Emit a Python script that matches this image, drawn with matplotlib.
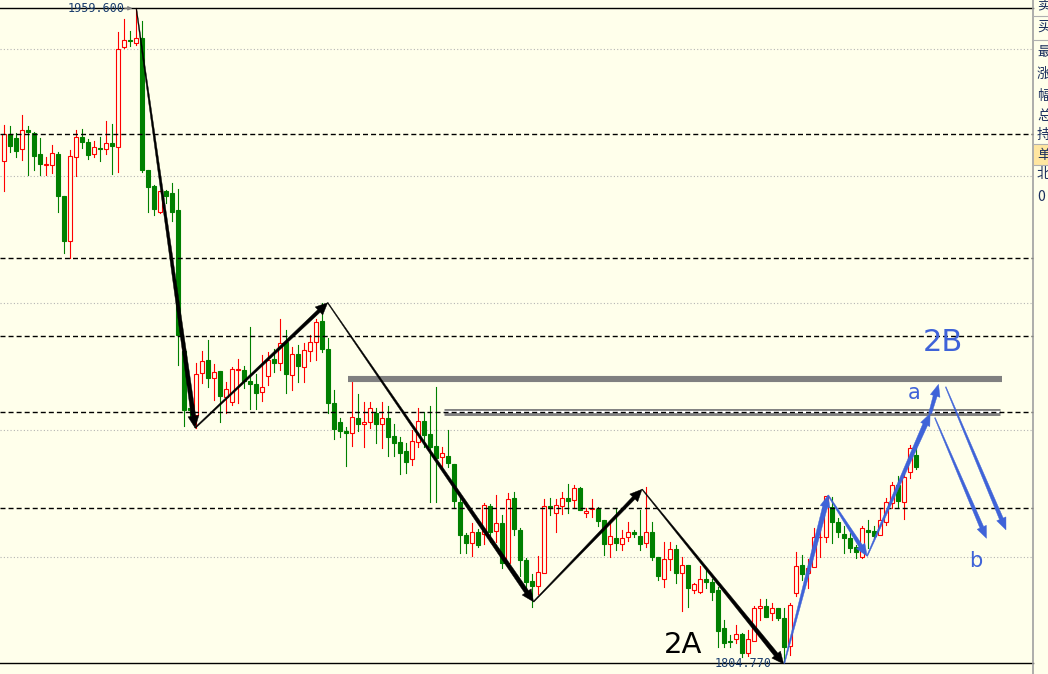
import numpy as np
import matplotlib
matplotlib.use('Agg')
import matplotlib.pyplot as plt
from matplotlib.patches import Rectangle, Polygon
from matplotlib.lines import Line2D

# candle data (open, high, low, close)
opens = [1923.6, 1930.0, 1929.0, 1926.3, 1930.8, 1930.2, 1925.2, 1922.6, 1922.6, 1925.2,
         1915.2, 1904.7, 1924.5, 1929.1, 1927.9, 1925.1, 1926.6, 1926.3, 1927.7, 1926.7,
         1950.4, 1952.1, 1951.5, 1952.5, 1921.4, 1917.6, 1911.5, 1916.4, 1916.0, 1911.9,
         1878.6, 1865.1, 1863.5, 1873.3, 1876.5, 1872.1, 1873.9, 1867.8, 1866.6, 1874.1,
         1874.1, 1871.6, 1870.7, 1869.0, 1872.7, 1876.7, 1875.8, 1880.8, 1872.9, 1877.9,
         1874.9, 1878.7, 1880.6, 1885.7, 1879.1, 1866.2, 1861.7, 1859.7, 1859.1, 1862.7,
         1861.3, 1861.9, 1864.0, 1861.3, 1862.7, 1858.5, 1857.0, 1854.9, 1853.0, 1857.1,
         1862.0, 1859.0, 1856.1, 1853.5, 1853.8, 1851.9, 1843.0, 1835.1, 1833.3, 1835.8,
         1835.3, 1841.9, 1836.1, 1837.9, 1828.5, 1843.8, 1836.3, 1829.2, 1824.2, 1823.1,
         1826.2, 1841.9, 1840.2, 1841.9, 1843.8, 1843.4, 1846.1, 1840.4, 1841.2, 1841.2,
         1838.6, 1832.9, 1834.4, 1833.0, 1834.7, 1835.7, 1834.8, 1833.1, 1835.7, 1829.8,
         1824.6, 1829.3, 1831.8, 1826.2, 1828.0, 1822.1, 1821.7, 1824.7, 1823.9, 1822.1,
         1813.0, 1810.0, 1810.4, 1811.7, 1807.3, 1810.1, 1817.8, 1818.4, 1816.6, 1817.9,
         1815.5, 1808.8, 1821.3, 1828.0, 1826.2, 1827.6, 1834.5, 1834.5, 1841.8, 1838.2,
         1835.3, 1834.4, 1832.2, 1829.8, 1836.3, 1836.0, 1835.1, 1838.2, 1842.7, 1846.9,
         1843.0, 1849.9, 1854.0]
highs = [1932.0, 1931.8, 1930.2, 1934.4, 1931.8, 1930.4, 1929.0, 1924.5, 1927.3, 1925.7,
         1915.2, 1926.1, 1930.8, 1931.1, 1928.7, 1928.3, 1929.2, 1933.0, 1932.2, 1954.1,
         1957.1, 1954.2, 1959.6, 1956.6, 1921.4, 1917.8, 1916.4, 1916.6, 1918.2, 1916.9,
         1878.6, 1866.3, 1875.8, 1878.6, 1881.2, 1875.5, 1873.9, 1871.3, 1874.9, 1876.7,
         1875.1, 1884.3, 1873.1, 1877.6, 1878.4, 1879.1, 1886.2, 1883.5, 1879.6, 1880.0,
         1880.4, 1882.4, 1886.1, 1889.9, 1881.6, 1869.4, 1862.7, 1860.7, 1871.3, 1868.4,
         1866.5, 1866.6, 1865.2, 1866.5, 1865.6, 1861.3, 1858.3, 1856.8, 1859.9, 1865.0,
         1864.2, 1865.6, 1870.1, 1856.0, 1859.9, 1851.9, 1844.3, 1835.6, 1837.9, 1836.4,
         1842.7, 1842.4, 1844.5, 1839.8, 1844.9, 1845.2, 1836.7, 1829.6, 1825.9, 1830.1,
         1843.5, 1843.8, 1843.5, 1845.3, 1847.1, 1846.9, 1846.5, 1841.4, 1843.5, 1841.8,
         1838.6, 1838.6, 1841.5, 1836.3, 1838.2, 1836.3, 1841.0, 1846.5, 1838.2, 1829.8,
         1833.5, 1833.5, 1832.7, 1830.0, 1828.0, 1823.7, 1827.8, 1827.0, 1824.7, 1822.7,
         1815.0, 1811.5, 1813.8, 1811.9, 1812.6, 1818.3, 1819.9, 1820.0, 1819.1, 1817.9,
         1817.8, 1818.9, 1831.1, 1830.4, 1829.3, 1836.7, 1837.1, 1844.3, 1844.1, 1839.0,
         1837.1, 1835.6, 1832.7, 1837.1, 1838.6, 1837.1, 1841.4, 1843.8, 1847.7, 1849.0,
         1850.5, 1856.4, 1855.6]
lows = [1916.5, 1925.7, 1924.5, 1923.7, 1920.2, 1921.4, 1920.2, 1920.2, 1920.6, 1911.5,
        1901.8, 1900.5, 1920.0, 1926.6, 1924.0, 1924.4, 1923.6, 1925.2, 1920.4, 1921.0,
        1950.1, 1950.8, 1950.9, 1921.0, 1911.4, 1910.7, 1911.1, 1913.5, 1909.2, 1875.3,
        1860.9, 1862.7, 1860.4, 1871.0, 1870.0, 1867.0, 1861.9, 1863.9, 1865.8, 1866.2,
        1869.8, 1864.9, 1864.9, 1866.8, 1870.5, 1873.7, 1874.1, 1868.7, 1869.4, 1871.3,
        1871.3, 1876.3, 1876.5, 1878.4, 1863.9, 1857.8, 1858.3, 1851.5, 1856.2, 1859.7,
        1856.0, 1860.3, 1856.9, 1855.7, 1853.8, 1853.8, 1849.4, 1849.8, 1851.6, 1856.0,
        1856.0, 1843.0, 1843.0, 1851.2, 1851.2, 1841.4, 1830.9, 1830.9, 1830.1, 1832.3,
        1833.0, 1833.5, 1833.5, 1827.2, 1827.6, 1835.1, 1825.4, 1822.5, 1818.1, 1821.1,
        1826.2, 1839.8, 1835.9, 1840.0, 1840.2, 1841.4, 1841.0, 1839.4, 1839.4, 1837.2,
        1830.4, 1829.8, 1831.5, 1831.5, 1833.7, 1834.7, 1831.5, 1832.3, 1829.2, 1824.4,
        1822.9, 1826.8, 1823.8, 1817.2, 1818.1, 1821.4, 1821.3, 1822.5, 1819.7, 1808.7,
        1808.5, 1808.7, 1809.5, 1806.3, 1806.5, 1810.1, 1815.0, 1815.6, 1815.0, 1815.0,
        1804.77, 1806.7, 1820.7, 1824.4, 1822.5, 1827.6, 1829.8, 1833.5, 1833.1, 1834.7,
        1830.9, 1831.1, 1829.6, 1829.6, 1831.9, 1834.3, 1835.1, 1837.5, 1841.4, 1841.4,
        1838.8, 1848.5, 1850.7]
closes = [1930.0, 1927.1, 1925.9, 1930.8, 1930.4, 1924.8, 1922.7, 1922.8, 1925.3, 1915.3,
          1904.7, 1924.7, 1929.1, 1928.1, 1924.9, 1926.7, 1926.3, 1927.7, 1927.1, 1949.9,
          1952.0, 1951.9, 1952.5, 1921.4, 1917.4, 1912.2, 1916.4, 1915.2, 1911.5, 1882.4,
          1864.6, 1864.6, 1873.1, 1876.3, 1872.1, 1873.6, 1868.0, 1869.5, 1874.3, 1874.3,
          1871.6, 1870.7, 1868.7, 1870.0, 1876.5, 1875.8, 1880.4, 1873.1, 1877.9, 1875.0,
          1878.8, 1880.6, 1885.4, 1879.1, 1866.2, 1860.1, 1859.7, 1859.1, 1862.9, 1861.3,
          1861.7, 1865.0, 1861.3, 1862.7, 1858.3, 1856.8, 1854.5, 1852.4, 1857.4, 1862.0,
          1858.7, 1856.0, 1853.2, 1854.4, 1852.0, 1843.2, 1835.1, 1833.3, 1835.8, 1832.7,
          1842.2, 1835.9, 1837.9, 1828.5, 1843.5, 1836.4, 1829.2, 1823.9, 1823.0, 1826.3,
          1841.9, 1841.4, 1842.2, 1843.8, 1843.2, 1846.1, 1841.0, 1840.8, 1841.4, 1838.5,
          1832.9, 1834.8, 1833.1, 1834.3, 1835.9, 1835.3, 1832.9, 1835.7, 1830.0, 1825.5,
          1829.4, 1831.7, 1826.2, 1828.0, 1822.5, 1823.5, 1824.7, 1823.9, 1821.7, 1812.5,
          1809.5, 1809.7, 1811.7, 1807.3, 1810.5, 1817.8, 1818.4, 1815.6, 1817.8, 1815.4,
          1808.7, 1818.5, 1827.8, 1825.8, 1827.4, 1834.5, 1834.7, 1844.3, 1838.2, 1835.9,
          1834.3, 1831.9, 1831.1, 1836.7, 1835.7, 1834.8, 1838.6, 1843.0, 1846.9, 1843.2,
          1848.9, 1855.6, 1851.2]

# horizontal levels
grid_levels = [1950, 1920, 1890, 1860, 1830]
dash_levels = [1930.0, 1900.6, 1882.2, 1864.1, 1841.4]
# thick gray resistance bars: (start index, end index, price)
bar_upper = (57.3, 166.3, 1872.0)
bar_lower = (73.3, 166.0, 1864.1)

# wave points (bar index, price)
black_wave = [(22.0, 1959.6), (31.8, 1860.4), (53.9, 1890.0),
              (88.2, 1819.3), (106.3, 1845.9), (129.9, 1804.6)]
black_w = [(0.8, 4.5), (1.2, 3.5), (0.8, 4.5), (1.0, 3.5), (0.8, 4.5)]
blue_wave = [(130.0, 1804.77), (137.3, 1844.5), (143.8, 1830.1),
             (154.3, 1863.8), (155.7, 1870.7)]
blue_w = [(1.0, 5.0), (1.0, 4.0), (1.0, 5.0), (3.0, 4.0)]
blue_proj = [((156.9, 1870.1), (166.95, 1836.3)),
             ((155.1, 1862.8), (163.7, 1834.3))]

BG = '#ffffeb'
RED = '#ff0000'
GREEN = '#008000'
BLUE = '#3f63d8'

W, H = 1048, 674
fig = plt.figure(figsize=(W / 100, H / 100), dpi=100, facecolor=BG)
ax = fig.add_axes([0, 0, 1, 1])
ax.set_facecolor(BG)
ax.set_xlim(-0.717, 173.95)
ax.set_ylim(1802.23, 1961.56)
ax.axis('off')

right = 1033 / W

for g in grid_levels:
    ax.axhline(g, xmax=right, color='#b4b4b4', lw=0.8, ls=(0, (1, 2)), zorder=1)
for d in dash_levels:
    ax.axhline(d, xmax=right, color='black', lw=1.0, ls=(0, (3.6, 2.2)), zorder=4)
ax.axhline(1959.6, xmax=right, color='black', lw=1.0, zorder=4)
ax.axhline(1804.77, xmax=right, color='black', lw=1.0, zorder=4)

# candles
bw = 0.62
for i in range(len(opens)):
    o, h, l, c = opens[i], highs[i], lows[i], closes[i]
    top, bot = max(o, c), min(o, c)
    if c >= o:
        ax.plot([i, i], [top, h], color=RED, lw=0.8, zorder=2)
        ax.plot([i, i], [l, bot], color=RED, lw=0.8, zorder=2)
        ax.add_patch(Rectangle((i - bw / 2, bot), bw, top - bot, facecolor=BG,
                               edgecolor=RED, lw=0.8, zorder=3))
    else:
        ax.plot([i, i], [l, h], color=GREEN, lw=0.8, zorder=2)
        ax.add_patch(Rectangle((i - bw / 2, bot), bw, top - bot, facecolor=GREEN,
                               edgecolor=GREEN, lw=0.8, zorder=3))

# gray bars
ax.plot(bar_upper[:2], [bar_upper[2]] * 2, color='#808080', lw=4.4,
        solid_capstyle='butt', zorder=5)
ax.plot(bar_lower[:2], [bar_lower[2]] * 2, color='#808080', lw=5.0,
        solid_capstyle='butt', zorder=3.5)
ax.plot(bar_lower[:2], [bar_lower[2]] * 2, color='white', lw=1.6,
        solid_capstyle='butt', zorder=3.6)


def taper_arrow(p0, p1, w0, w1, color, hw=11, hl=12):
    T = ax.transData
    a = T.transform(p0)
    b = T.transform(p1)
    d = b - a
    u = d / np.hypot(*d)
    n = np.array([-u[1], u[0]])
    base = b - u * hl
    pts = [a + n * w0 / 2, base + n * w1 / 2, base + n * hw / 2, b,
           base - n * hw / 2, base - n * w1 / 2, a - n * w0 / 2]
    pts = T.inverted().transform(np.array(pts))
    ax.add_patch(Polygon(pts, closed=True, facecolor=color, edgecolor=color,
                         lw=0.3, zorder=6))


for j in range(len(black_wave) - 1):
    taper_arrow(black_wave[j], black_wave[j + 1], *black_w[j], 'black')
for j in range(len(blue_wave) - 1):
    taper_arrow(blue_wave[j], blue_wave[j + 1], *blue_w[j], BLUE, hw=10)
for s, e in blue_proj:
    taper_arrow(s, e, 0.8, 4.0, BLUE, hw=10)

# labels
ax.text(156.4, 1880.7, '2B', color=BLUE, fontsize=22, ha='center', va='center', zorder=7)
ax.text(151.6, 1868.6, 'a', color=BLUE, fontsize=15, ha='center', va='center', zorder=7)
ax.text(161.9, 1828.9, 'b', color=BLUE, fontsize=15, ha='center', va='center', zorder=7)
ax.text(113.1, 1809.1, '2A', color='black', fontsize=21, ha='center', va='center', zorder=7)

ax.text(10.5, 1959.6, '1959.600', family='DejaVu Sans Mono', fontsize=8.5,
        color='#1c3f6e', ha='left', va='center', zorder=7)
ax.annotate('', xy=(21.8, 1959.6), xytext=(19.6, 1959.6),
            arrowprops=dict(arrowstyle='-|>', color='#808080', lw=0.8,
                            mutation_scale=6), zorder=7)
ax.text(118.4, 1804.77, '1804.770', family='DejaVu Sans Mono', fontsize=8.5,
        color='#1c3f6e', ha='left', va='center', zorder=7)

# right side info panel
fig.add_artist(Line2D([right, right], [0, 1], color='#a0a0a0', lw=1.2))
fig.add_artist(Rectangle((right + 0.001, (H - 165) / H), 1 - right, 21 / H,
                         facecolor='#ffe6a0', edgecolor='none'))
for yy in [16, 40, 144, 165]:
    fig.add_artist(Line2D([right, 1], [(H - yy) / H] * 2, color='#b0b0b0', lw=0.8))
panel_labels = ['卖', '买', '最', '涨', '幅', '总', '持', '单', '北', '0']
panel_y = [4, 27, 52, 74, 96, 116, 135, 155, 174, 197]
for lab, yy in zip(panel_labels, panel_y):
    fig.text(1037 / W, (H - yy) / H, lab, family=['Noto Sans CJK SC', 'DejaVu Sans'],
             fontsize=10, color='#1c2f5e', ha='left', va='center')

fig.savefig('out.png', dpi=100, facecolor=BG)
